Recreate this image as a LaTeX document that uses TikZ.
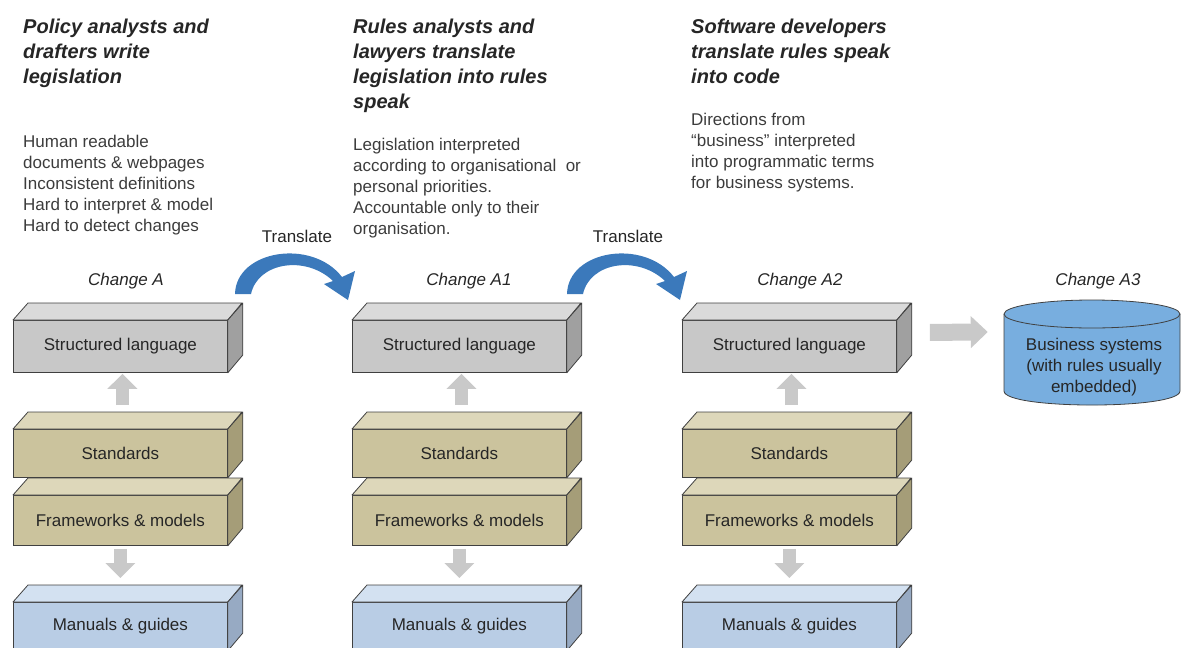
\documentclass[tikz,border=0pt]{standalone}
\usepackage{fontspec}
\setmainfont{Liberation Sans}
\usetikzlibrary{arrows.meta}
\definecolor{edge}{HTML}{404040}
\definecolor{txt}{HTML}{262626}
\definecolor{graypfront}{HTML}{C8C8C8}
\definecolor{grayptop}{HTML}{DADADA}
\definecolor{grayside}{HTML}{A0A0A0}
\definecolor{tanpfront}{HTML}{CBC39D}
\definecolor{tanptop}{HTML}{DDD7BA}
\definecolor{tanside}{HTML}{A59D78}
\definecolor{bluepfront}{HTML}{B9CDE5}
\definecolor{blueptop}{HTML}{D3E1F1}
\definecolor{blueside}{HTML}{97AAC3}
\definecolor{arrgray}{HTML}{C9C9C9}
\definecolor{transblue}{HTML}{3B79BB}
\definecolor{cylblue}{HTML}{78AEDF}
\newcommand\mkbox[6]{%
  \node[boxface, fill=#5pfront, minimum height=#4pt, anchor=north west] (#1) at (#2,#3) {#6};
  \filldraw[boxedge, fill=#5ptop] (#1.north west) -- ++(15,-17) -- ++(214,0) -- (#1.north east) -- cycle;
  \filldraw[boxedge, fill=#5side] (#1.north east) -- ++(15,-17) -- ++(0,#4) -- (#1.south east) -- cycle;
}
\begin{document}
\begin{tikzpicture}[x=1pt,y=-1pt,
  boxface/.style={draw=edge, line width=0.8pt, minimum width=214pt, inner sep=0pt,
    font=\fontsize{17}{20}\selectfont, text=txt},
  boxedge/.style={draw=edge, line width=0.8pt, line join=round},
  headtxt/.style={anchor=base west, align=left, inner sep=0pt, text=txt,
    font=\fontsize{20}{25}\selectfont\bfseries\itshape},
  bodytxt/.style={anchor=base west, align=left, inner sep=0pt, text=txt!90,
    font=\fontsize{17}{21}\selectfont},
  changetxt/.style={anchor=base, inner sep=0pt, text=txt, font=\fontsize{17}{20}\selectfont\itshape},
  transtxt/.style={anchor=base, inner sep=0pt, text=txt, font=\fontsize{17}{20}\selectfont},
  vertarrow/.style={draw=arrgray, line width=13pt, -{Triangle[width=29pt,length=15pt]}},
  horzarrow/.style={draw=arrgray, line width=17pt, -{Triangle[width=31pt,length=17pt]}},
  translate/.style={fill=transblue, draw=none}
]
\useasboundingbox (0,0) rectangle (1181,648);
\clip (0,0) rectangle (1181,648);

% headers (anchor at baseline of last line)
\node[headtxt] (h1) at (23,83) {Policy analysts and\\drafters write\\legislation};
\node[headtxt] (h2) at (353,108) {Rules analysts and\\lawyers translate\\legislation into rules\\speak};
\node[headtxt] (h3) at (691,83) {Software developers\\translate rules speak\\into code};

% bodies (anchor at baseline of last line)
\node[bodytxt] (b1) at (23,231) {Human readable\\documents \& webpages\\Inconsistent definitions\\Hard to interpret \& model\\Hard to detect changes};
\node[bodytxt] (b2) at (353,234) {Legislation interpreted\\according to organisational\ \ or\\personal priorities.\\Accountable only to their\\organisation.};
\node[bodytxt] (b3) at (691,188) {Directions from\\“business” interpreted\\into programmatic terms\\for business systems.};

% change labels
\node[changetxt] (c1) at (126,285) {Change A};
\node[changetxt] (c2) at (469,285) {Change A1};
\node[changetxt] (c3) at (800,285) {Change A2};
\node[changetxt] (c4) at (1098,285) {Change A3};

% translate labels
\node[transtxt] (t1) at (297,242) {Translate};
\node[transtxt] (t2) at (628,242) {Translate};

% translate arrows
\foreach \dx in {0,332}{
  \begin{scope}[xshift=\dx pt]
  \path[translate] (235,294) .. controls (236,250) and (312,238) .. (342,277)
     -- (355,271) -- (348,300) -- (324,284) -- (333,281)
     .. controls (306,255) and (258,262) .. (251,294) -- cycle;
  \end{scope}
}

% column boxes
\foreach \c/\x in {1/13,2/352,3/682}{
  \mkbox{fw\c}{\x}{495}{50}{tan}{Frameworks \& models}
  \mkbox{std\c}{\x}{429}{48}{tan}{Standards}
  \mkbox{sl\c}{\x}{320}{52}{gray}{Structured language}
  \mkbox{man\c}{\x}{602}{48}{blue}{Manuals \& guides}
  \draw[vertarrow] ([xshift=2pt,yshift=24pt]std\c.north) -- ([xshift=2pt,yshift=-1pt]sl\c.south);
  \draw[vertarrow] ([yshift=-3pt]fw\c.south) -- ([yshift=24pt]man\c.north);
}

% cylinder
\fill[cylblue] (1004,314) -- (1004,391) .. controls (1004,409.7) and (1180,409.7) .. (1180,391) -- (1180,314) -- cycle;
\draw[boxedge] (1004,314) -- (1004,391) .. controls (1004,409.7) and (1180,409.7) .. (1180,391) -- (1180,314);
\filldraw[boxedge, fill=cylblue] (1092,314) ellipse [x radius=88, y radius=14];
\node[align=center, inner sep=0pt, minimum width=176pt, text=txt, font=\fontsize{17}{21}\selectfont] (cyl) at (1094,367) {Business systems\\(with rules usually\\embedded)};

% arrow to cylinder
\draw[horzarrow] ([xshift=33pt,yshift=14pt]sl3.east) -- ([xshift=-18pt,yshift=35pt]cyl.west);
\end{tikzpicture}
\end{document}
